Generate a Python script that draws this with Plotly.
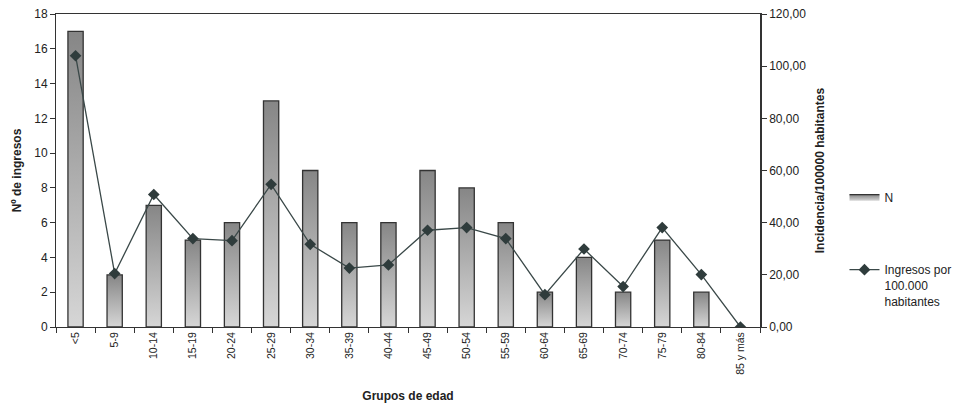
import plotly.graph_objects as go

# Admissions by age group and incidence per 100,000 inhabitants
grupos = ["<5", "5-9", "10-14", "15-19", "20-24", "25-29", "30-34", "35-39",
          "40-44", "45-49", "50-54", "55-59", "60-64", "65-69", "70-74",
          "75-79", "80-84", "85 y más"]
ingresos = [17, 3, 7, 5, 6, 13, 9, 6, 6, 9, 8, 6, 2, 4, 2, 5, 2, 0]
incidencia = [104.0, 20.5, 50.8, 33.9, 33.1, 54.7, 31.7, 22.6, 23.8, 37.1,
              38.1, 33.9, 12.4, 29.9, 15.5, 38.1, 20.1, 0.0]

FONT = "Liberation Sans, Arial, sans-serif"
HALF_W = 0.195          # half bar width in category units
EDGE = "#333333"
GRAD = [[0, "#d6d6d6"], [1, "#868686"]]

fig = go.Figure()

# Bars drawn as filled outlines so each one carries its own vertical gradient
first = True
for i, v in enumerate(ingresos):
    if v <= 0:
        continue
    fig.add_trace(go.Scatter(
        x=[i - HALF_W, i - HALF_W, i + HALF_W, i + HALF_W, i - HALF_W],
        y=[0, v, v, 0, 0],
        mode="lines",
        fill="toself",
        fillgradient=dict(type="vertical", colorscale=GRAD),
        line=dict(color=EDGE, width=1.3),
        name="N",
        legendgroup="n",
        showlegend=first,
        hoverinfo="skip",
        yaxis="y",
    ))
    first = False

fig.add_trace(go.Scatter(
    x=list(range(len(grupos))),
    y=incidencia,
    mode="lines+markers",
    line=dict(color="#3a4848", width=1.3),
    marker=dict(symbol="diamond", size=9, color="#2f3c3c"),
    name="Ingresos por<br>100.000<br>habitantes",
    legendgroup="inc",
    yaxis="y2",
))

axis_font = dict(family=FONT, size=12, color="#222222")

fig.update_layout(
    width=967, height=403,
    margin=dict(l=56, r=207, t=14, b=76, autoexpand=False),
    paper_bgcolor="white", plot_bgcolor="white",
    separators=",.",
    font=dict(family=FONT, size=12, color="#222222"),
    showlegend=True,
    legend=dict(
        x=1.12, y=0.462, xanchor="left", yanchor="top",
        font=dict(family=FONT, size=12, color="#222222"),
        tracegroupgap=54, valign="top",
        bgcolor="rgba(0,0,0,0)",
    ),
    xaxis=dict(
        range=[-0.5, len(grupos) - 0.5],
        tickmode="array",
        tickvals=list(range(len(grupos))),
        ticktext=grupos,
        tickangle=-90,
        tickfont=dict(family=FONT, size=10.5, color="#222222"),
        ticks="",
        minor=dict(tick0=0.5, dtick=1, ticks="outside", ticklen=5,
                   tickcolor="#333333", tickwidth=1),
        showline=True, linecolor="#333333", linewidth=1, mirror=True,
        showgrid=False, zeroline=False, automargin=False,
        title=dict(text="<b>Grupos de edad</b>", font=axis_font, standoff=17),
    ),
    yaxis=dict(
        range=[0, 18], dtick=2,
        ticks="outside", ticklen=5, tickcolor="#333333",
        tickfont=dict(family=FONT, size=12, color="#222222"),
        showline=True, linecolor="#333333", linewidth=1,
        showgrid=False, zeroline=False, automargin=False,
        title=dict(text="<b>Nº de ingresos</b>", font=axis_font, standoff=10),
    ),
    yaxis2=dict(
        overlaying="y", side="right",
        range=[0, 120], dtick=20, tickformat=".2f",
        ticks="outside", ticklen=5, tickcolor="#333333",
        tickfont=dict(family=FONT, size=12, color="#222222"),
        showline=True, linecolor="#333333", linewidth=1.5,
        showgrid=False, zeroline=False, automargin=False,
        title=dict(text="<b>Incidencia/100000 habitantes</b>", font=axis_font,
                   standoff=10),
    ),
)

fig.write_html("out.html")
